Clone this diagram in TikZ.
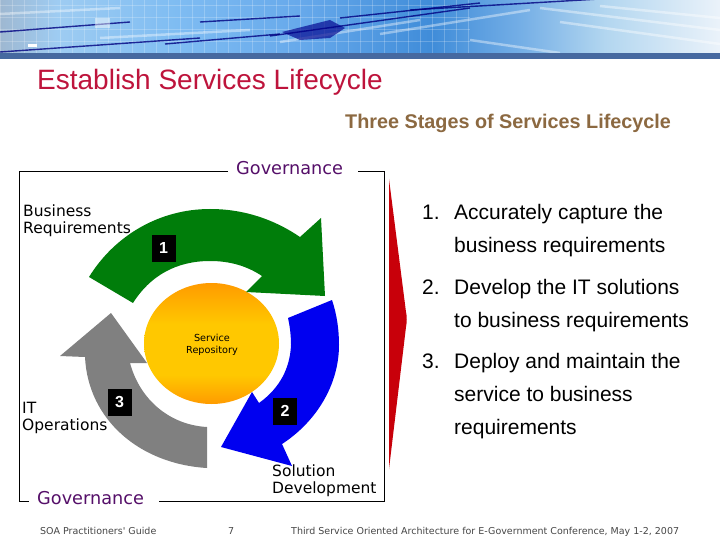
\documentclass[tikz,border=0pt]{standalone}
\usepackage{fontspec}
\setmainfont{Liberation Sans}
\newfontfamily\verafont{DejaVu Sans}
\definecolor{titlered}{RGB}{190,20,60}
\definecolor{subbrown}{RGB}{140,105,65}
\definecolor{govpurple}{RGB}{85,15,105}
\definecolor{arrowgreen}{RGB}{0,125,10}
\definecolor{arrowblue}{RGB}{0,0,240}
\definecolor{arrowgray}{RGB}{128,128,128}
\definecolor{redbar}{RGB}{200,0,10}
\definecolor{bandblue}{RGB}{70,105,160}
\definecolor{footgray}{RGB}{70,70,70}
\definecolor{discorange}{RGB}{255,155,0}
\definecolor{discyellow}{RGB}{255,200,0}
\pgfdeclarehorizontalshading{headshade}{100bp}{
  rgb(0bp)=(.62,.72,.82);
  rgb(25bp)=(.62,.72,.82);
  rgb(29bp)=(.62,.80,.95);
  rgb(37bp)=(.50,.74,.95);
  rgb(46bp)=(.40,.66,.92);
  rgb(55bp)=(.25,.55,.85);
  rgb(61bp)=(.45,.68,.90);
  rgb(67bp)=(.70,.84,.94);
  rgb(75bp)=(.92,.95,.98);
  rgb(100bp)=(.92,.95,.98)}
\pgfdeclareverticalshading{discshade}{100bp}{
  color(0bp)=(discorange);
  color(25bp)=(discorange);
  color(37bp)=(discyellow);
  color(58bp)=(discyellow);
  color(75bp)=(discorange);
  color(100bp)=(discorange)}
\tikzset{
  px/.style={x=1pt,y=-1pt},
  diag/.style={font=\verafont\fontsize{15.5}{17}\selectfont,align=left,anchor=north west,inner sep=0pt,text=black},
  gov/.style={font=\verafont\fontsize{17.7}{20}\selectfont,text=govpurple,inner sep=0pt,anchor=base west},
  num/.style={fill=black,text=white,font=\bfseries\fontsize{16}{18}\selectfont,minimum width=24pt,minimum height=27pt,inner sep=0pt},
  item/.style={font=\fontsize{21}{24}\selectfont,anchor=base west,inner sep=0pt,text=black},
  foot/.style={font=\verafont\fontsize{9.5}{11}\selectfont,text=footgray,anchor=base west,inner sep=0pt},
  streak/.style={line width=1.4pt,draw=blue!50!black,opacity=.8},
  pale/.style={line width=2.5pt,draw=white,opacity=.4}
}
\begin{document}
\begin{tikzpicture}[px]
\useasboundingbox (0,0) rectangle (720,540);
\fill[white] (0,0) rectangle (720,540);
% header
\shade[shading=headshade] (0,0) rectangle (720,53);
\begin{scope}
\clip (0,0) rectangle (720,53);
\foreach \gx in {0,12,...,470}{\draw[white,opacity=.22,line width=.4pt] (\gx,0) -- (\gx,53);}
\foreach \gy in {5,17,29,41}{\draw[white,opacity=.22,line width=.4pt] (0,\gy) -- (470,\gy);}
\foreach \xa/\ya/\xb/\yb in {0/52/200/38,165/44/280/34,200/22/300/16,270/36/470/8,340/18/480/3,410/10/720/-8,0/32/130/22}{\draw[streak] (\xa,\ya) -- (\xb,\yb);}
\foreach \xa/\ya/\xb/\yb in {0/14/120/8,100/38/250/30,280/42/420/20,380/34/530/10,540/8/720/30,560/22/720/44,600/6/720/18,470/40/560/53}{\draw[pale] (\xa,\ya) -- (\xb,\yb);}
\fill[blue!55!black,opacity=.65] (282,32) -- (330,20) -- (345,28) -- (330,38) -- (300,40) -- cycle;
\fill[white,opacity=.45] (95,18) rectangle (110,28);
\end{scope}
\fill[white] (28,44) rectangle (37,47);
\fill[bandblue] (0,53) rectangle (720,59);
% title
\node[font=\fontsize{28}{32}\selectfont,text=titlered,anchor=base west,inner sep=0pt] (title) at (37,90) {Establish Services Lifecycle};
\node[font=\bfseries\fontsize{19.8}{23}\selectfont,text=subbrown,anchor=base west,inner sep=0pt] (sub) at (345,128.5) {Three Stages of Services Lifecycle};
% frame
\draw[black,line width=.8pt] (228,171.5) -- (19.5,171.5) -- (19.5,501.5) -- (29,501.5);
\draw[black,line width=.8pt] (159,501.5) -- (384.5,501.5) -- (384.5,171.5) -- (358,171.5);
\node[gov] (govtop) at (236,174.5) {Governance};
\node[gov] (govbot) at (37,504) {Governance};
% red bar
\fill[redbar] (389,179) -- (406,312) .. controls (407,316) and (407,322) .. (406,327) -- (389,469) -- cycle;
% service repository
\shade[shading=discshade] (211.5,343.5) ellipse [x radius=67.5,y radius=60.5];
% green arrow
\fill[arrowgreen] (89,277) .. controls (115,235) and (160,209) .. (210,209)
  .. controls (245,209) and (275,220) .. (300,237) -- (321,218) -- (325,296) -- (246,292) -- (262,276)
  .. controls (247,266) and (230,261) .. (210,261) .. controls (176,261) and (150,276) .. (133,303) -- cycle;
% blue arrow
\fill[arrowblue] (288,318) -- (332,300) .. controls (337,315) and (339,330) .. (339,345)
  .. controls (339,385) and (316,422) .. (282,444) -- (292,466) -- (221,447) -- (252,392) -- (259,403)
  .. controls (280,388) and (290,368) .. (291,345) .. controls (291,336) and (290,327) .. (288,318) -- cycle;
% gray arrow, partly behind the disc
\begin{scope}[even odd rule]
\clip (0,0) rectangle (720,540) (211.5,343.5) ellipse [x radius=67.5,y radius=60.5];
\fill[arrowgray] (207,427) -- (207,468) .. controls (140,464) and (88,420) .. (85,357) -- (60,356) -- (111,313)
  -- (147,363) -- (130,363) .. controls (140,400) and (170,425) .. (207,427) -- cycle;
\end{scope}
% numbers
\node[num] (n1) at (163.5,248) {1};
\node[num] (n2) at (285,411) {2};
\node[num] (n3) at (119.5,402) {3};
% labels
\node[diag] (br) at (23,204.5) {Business\\Requirements};
\node[diag] (it) at (22,401.5) {IT\\Operations};
\node[diag] (sd) at (272,464.5) {Solution\\Development};
\node[font=\verafont\fontsize{9.7}{12}\selectfont,align=center,inner sep=0pt] (sr) at (212,344.5) {Service\\Repository};
% list
\node[item] (i1) at (422,219.5) {1.};
\node[item] (t1) at (454,219.5) {Accurately capture the};
\node[item] (t1b) at (454,252.5) {business requirements};
\node[item] (i2) at (422,294.5) {2.};
\node[item] (t2) at (454,294.5) {Develop the IT solutions};
\node[item] (t2b) at (454,327.5) {to business requirements};
\node[item] (i3) at (422,368.5) {3.};
\node[item] (t3) at (454,368.5) {Deploy and maintain the};
\node[item] (t3b) at (454,401.5) {service to business};
\node[item] (t3c) at (454,434.5) {requirements};
% footer
\node[foot] (f1) at (40,534) {SOA Practitioners' Guide};
\node[foot] (f2) at (228,534) {7};
\node[foot] (f3) at (291,534) {Third Service Oriented Architecture for E-Government Conference, May 1-2, 2007};
\end{tikzpicture}
\end{document}
